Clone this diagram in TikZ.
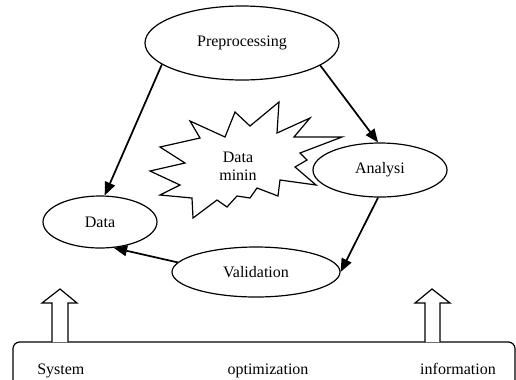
\documentclass[tikz,border=0pt]{standalone}
\usepackage{fontspec}
\setmainfont{Liberation Serif}
\usetikzlibrary{arrows.meta,shapes.geometric}
\tikzset{
  stage/.style={ellipse,draw,line width=0.9pt,inner sep=0pt,font=\fontsize{12}{14}\selectfont},
  flow/.style={-{Triangle[length=10pt,width=8pt]},line width=1.3pt},
  hollow/.style={draw,line width=0.9pt,fill=white},
  lbl/.style={font=\fontsize{12}{14}\selectfont,inner sep=0pt}
}

\begin{document}
\begin{tikzpicture}[x=0.75pt,y=-0.75pt]
  \useasboundingbox (0,0) rectangle (516,379);
  \clip (0,0) rectangle (516,379);

  % Stages of the cycle
  \node[stage,minimum width=145.5pt,minimum height=55.5pt] (prep) at (242,43) {Preprocessing};
  \node[stage,minimum width=100.5pt,minimum height=40.5pt] (anal) at (380,170) {Analysi};
  \node[stage,minimum width=126pt,minimum height=37.5pt] (valid) at (256,272) {Validation};
  \node[stage,minimum width=85.5pt,minimum height=39pt] (data) at (100,222) {Data};

  % Star in the middle
  \draw[line width=0.9pt,line join=miter] (190,121) -- (225,137) -- (235,112) -- (250,126)
    -- (279,102) -- (277,133) -- (310,118) -- (294,137) -- (342,137) -- (300,153)
    -- (307,160) -- (295,167) -- (316,185) -- (280,180) -- (278,196) -- (257,188)
    -- (250,198) -- (237,196) -- (227,207) -- (217,200) -- (193,218) -- (192,198)
    -- (160,195) -- (180,185) -- (150,171) -- (185,163) -- (160,147) -- (200,138) -- cycle;
  \node[lbl,align=center,font=\fontsize{12}{13.5}\selectfont] (mine) at (238,166) {Data\\minin};

  % Flow between stages
  \draw[flow] (prep.195) -- (data.80);
  \draw[flow] (prep.344) -- (anal.94);
  \draw[flow] (anal.266) -- (valid.0);
  \draw[flow] (valid.173) -- (data.298);

  % Bar at the bottom
  \draw[line width=0.9pt,rounded corners=5pt] (13,342) rectangle (515,400);
  \node[lbl,anchor=base west] (sys) at (37,374) {System};
  \node[lbl,anchor=base] (opt) at (268,374) {optimization};
  \node[lbl,anchor=base] (info) at (458,374) {information};

  % Hollow arrows
  \draw[hollow] (52,342) -- (52,303) -- (42,303) -- (60,289) -- (77,303) -- (68,303) -- (68,342);
  \draw[hollow] (425,342) -- (425,303) -- (415,303) -- (432,289) -- (450,303) -- (440,303) -- (440,342);
\end{tikzpicture}
\end{document}
